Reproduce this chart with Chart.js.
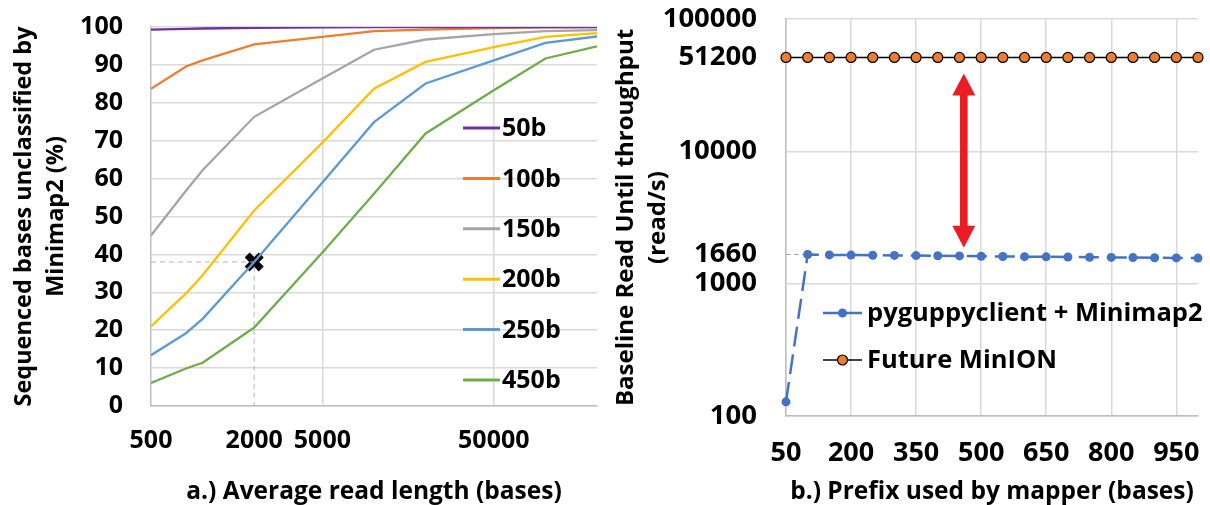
<!DOCTYPE html>
<html>
<head>
<meta charset="utf-8">
<script src="https://cdn.jsdelivr.net/npm/chart.js@4"></script>
<style>
  html, body { margin: 0; padding: 0; background: #fff; }
  #wrap { position: relative; width: 1210px; height: 505px; }
  .box { position: absolute; top: 0; width: 605px; height: 505px; }
</style>
</head>
<body>
<div id="wrap">
  <div class="box" style="left:0"><canvas id="left" width="605" height="505"></canvas></div>
  <div class="box" style="left:605px"><canvas id="right" width="605" height="505"></canvas></div>
</div>
<script>
// ---- a.) unclassified bases vs read length ----
var READ_LENGTH = [500, 800, 1000, 2000, 5000, 10000, 20000, 50000, 100000, 200000];
var LEFT_X_TICKS = [500, 2000, 5000, 50000];
var UNCL_50B  = [99.3, 99.5, 99.6, 99.8, 99.9, 100, 100, 100, 100, 100];
var UNCL_100B = [83.7, 89.6, 91.2, 95.4, 97.4, 98.9, 99.3, 99.7, 99.9, 100];
var UNCL_150B = [45.0, 56.8, 62.2, 76.3, 86.4, 94.0, 96.7, 98.1, 98.9, 99.2];
var UNCL_200B = [21.0, 29.7, 34.5, 51.6, 69.5, 83.7, 90.8, 94.7, 97.4, 98.4];
var UNCL_250B = [13.4, 19.2, 23.0, 38.0, 59.0, 74.9, 85.1, 91.2, 95.8, 97.5];
var UNCL_450B = [6.1, 9.9, 11.4, 20.7, 40.5, 56.0, 71.9, 83.3, 91.7, 94.9];
var MARK_X = 2000;
var MARK_Y = 38;

// ---- b.) throughput vs prefix ----
var PREFIX = ['50', '100', '150', '200', '250', '300', '350', '400', '450', '500',
              '550', '600', '650', '700', '750', '800', '850', '900', '950', '1000'];
var GUPPY_MINIMAP2 = [128, 1660, 1650, 1645, 1640, 1635, 1630, 1625, 1620, 1610,
                      1605, 1600, 1595, 1590, 1585, 1580, 1575, 1570, 1565, 1560];
var FUTURE_MINION = [51200, 51200, 51200, 51200, 51200, 51200, 51200, 51200, 51200, 51200,
                     51200, 51200, 51200, 51200, 51200, 51200, 51200, 51200, 51200, 51200];
var RIGHT_Y_TICKS = [100, 1000, 1660, 10000, 51200, 100000];
var RIGHT_Y_GRID = [100, 1000, 10000, 100000];
var ARROW_AT = 8.2;        // category index (around 450)
var ARROW_TOP = 38800;
var ARROW_BOTTOM = 1870;

var GRID = '#d9d9d9';
var AXIS = '#bfbfbf';
var FAMILY = '"Open Sans", Lato, sans-serif';
Chart.defaults.font.family = FAMILY;
Chart.defaults.font.weight = 'bold';
Chart.defaults.color = '#000';

function pts(values) {
  return READ_LENGTH.map(function (x, i) { return { x: x, y: values[i] }; });
}
function line(label, values, color) {
  return { label: label, data: pts(values), borderColor: color, backgroundColor: color,
           borderWidth: 2.3, pointRadius: 0, tension: 0, inLegend: true };
}
function noPadY(s, w) { s.width = w; s.paddingTop = 0; s.paddingBottom = 0; }
function noPadX(s, h) { s.height = h; s.paddingLeft = 0; s.paddingRight = 0; }

// legend drawn inside the plot area, like the Excel one
var leftLegend = {
  id: 'leftLegend',
  afterDraw: function (chart) {
    var ctx = chart.ctx, a = chart.chartArea;
    var items = chart.data.datasets.filter(function (d) { return d.inLegend; });
    ctx.save();
    ctx.font = 'bold 25px ' + FAMILY;
    ctx.textBaseline = 'middle';
    items.forEach(function (d, i) {
      var y = a.top + 101 + i * 50.4;
      var x0 = a.left + 312;
      ctx.strokeStyle = d.borderColor;
      ctx.lineWidth = 3;
      ctx.beginPath(); ctx.moveTo(x0, y); ctx.lineTo(x0 + 37, y); ctx.stroke();
      ctx.fillStyle = '#000';
      ctx.fillText(d.label, x0 + 39, y + 1);
    });
    ctx.restore();
  }
};

new Chart(document.getElementById('left'), {
  type: 'line',
  data: {
    datasets: [
      line('50b', UNCL_50B, '#7030A0'),
      line('100b', UNCL_100B, '#ED7D31'),
      line('150b', UNCL_150B, '#A5A5A5'),
      line('200b', UNCL_200B, '#FFC000'),
      line('250b', UNCL_250B, '#5B9BD5'),
      line('450b', UNCL_450B, '#70AD47'),
      { label: 'guide', data: [{ x: READ_LENGTH[0], y: MARK_Y }, { x: MARK_X, y: MARK_Y }, { x: MARK_X, y: 0 }],
        borderColor: '#b4b4b4', borderWidth: 1, borderDash: [5, 4], pointRadius: 0 },
      { label: 'mark', data: [{ x: MARK_X, y: MARK_Y }], showLine: false, pointStyle: 'crossRot',
        pointRadius: 10, pointBorderWidth: 7, borderColor: '#000', backgroundColor: '#000' }
    ]
  },
  options: {
    responsive: false,
    animation: false,
    layout: { autoPadding: false, padding: { top: 27, right: 8, left: 0, bottom: 0 } },
    plugins: { legend: { display: false }, tooltip: { enabled: false } },
    scales: {
      x: {
        type: 'logarithmic', min: 500, max: 200000,
        afterBuildTicks: function (s) { s.ticks = LEFT_X_TICKS.map(function (v) { return { value: v }; }); },
        afterFit: function (s) { noPadX(s, 99); },
        ticks: { autoSkip: false, maxRotation: 0, padding: 20, font: { size: 25, weight: 'bold' },
                 callback: function (v) { return String(v); } },
        grid: { drawTicks: false, lineWidth: 1.5,
                color: function (c) { return (c.tick && (c.tick.value === 5000 || c.tick.value === 50000)) ? GRID : 'rgba(0,0,0,0)'; } },
        border: { color: AXIS, width: 1.5 },
        title: { display: true, text: 'a.) Average read length (bases)', font: { size: 24.5, weight: 'bold', lineHeight: 1.1 },
                 padding: { top: 0, bottom: 0 } }
      },
      y: {
        min: 0, max: 100,
        afterFit: function (s) { noPadY(s, 151); },
        ticks: { stepSize: 10, padding: 28, font: { size: 25, weight: 'bold' } },
        grid: { drawTicks: false, color: GRID, lineWidth: 1.5 },
        border: { color: AXIS, width: 1.5 },
        title: { display: true, text: ['Sequenced bases unclassified by', 'Minimap2 (%)'],
                 font: { size: 23.5, weight: 'bold', lineHeight: 1.38 }, padding: { top: 8, bottom: 0 } }
      }
    }
  },
  plugins: [leftLegend]
});

var rightLegend = {
  id: 'rightLegend',
  afterDraw: function (chart) {
    var ctx = chart.ctx, a = chart.chartArea;
    var items = chart.data.datasets.filter(function (d) { return d.inLegend; });
    ctx.save();
    ctx.font = 'bold 25.5px ' + FAMILY;
    ctx.textBaseline = 'middle';
    items.forEach(function (d, i) {
      var y = a.top + 294 + i * 47;
      var x0 = a.left + 37;
      ctx.strokeStyle = d.borderColor;
      ctx.lineWidth = d.borderWidth;
      ctx.beginPath(); ctx.moveTo(x0, y); ctx.lineTo(x0 + 39, y); ctx.stroke();
      ctx.beginPath(); ctx.arc(x0 + 19.5, y, d.pointRadius, 0, Math.PI * 2);
      ctx.fillStyle = d.pointBackgroundColor; ctx.fill();
      if (d.pointBorderWidth) { ctx.lineWidth = d.pointBorderWidth; ctx.strokeStyle = d.pointBorderColor; ctx.stroke(); }
      ctx.fillStyle = '#000';
      ctx.fillText(d.label, x0 + 44, y + 1);
    });
    ctx.restore();
  }
};

var arrow = {
  id: 'arrow',
  afterDatasetsDraw: function (chart) {
    var ctx = chart.ctx;
    var x = chart.scales.x.getPixelForValue(ARROW_AT);
    var y1 = chart.scales.y.getPixelForValue(ARROW_TOP);
    var y2 = chart.scales.y.getPixelForValue(ARROW_BOTTOM);
    var hw = 11.5, hl = 22;
    ctx.save();
    ctx.fillStyle = '#EC1C24';
    ctx.fillRect(x - 3.8, y1 + hl - 1, 7.6, y2 - y1 - 2 * hl + 2);
    ctx.beginPath(); ctx.moveTo(x, y1); ctx.lineTo(x - hw, y1 + hl); ctx.lineTo(x + hw, y1 + hl); ctx.closePath(); ctx.fill();
    ctx.beginPath(); ctx.moveTo(x, y2); ctx.lineTo(x - hw, y2 - hl); ctx.lineTo(x + hw, y2 - hl); ctx.closePath(); ctx.fill();
    ctx.restore();
  }
};

new Chart(document.getElementById('right'), {
  type: 'line',
  data: {
    labels: PREFIX,
    datasets: [
      { label: 'pyguppyclient + Minimap2', data: GUPPY_MINIMAP2, borderColor: '#4472C4',
        borderWidth: 2.5, borderDash: [20, 8], pointRadius: 4.5, pointBackgroundColor: '#4472C4',
        pointBorderWidth: 0, pointBorderColor: '#4472C4', clip: false, inLegend: true },
      { label: 'Future MinION', data: FUTURE_MINION, borderColor: '#000', borderWidth: 1.4,
        pointRadius: 5, pointBackgroundColor: '#ED7D31', pointBorderColor: '#000',
        pointBorderWidth: 1.2, clip: false, inLegend: true },
      { label: 'guide', data: [1660, 1660], borderColor: '#a6a6a6', borderWidth: 1,
        borderDash: [5, 3], pointRadius: 0 }
    ]
  },
  options: {
    responsive: false,
    animation: false,
    layout: { autoPadding: false, padding: { top: 19, right: 12, left: 0, bottom: 0 } },
    plugins: { legend: { display: false }, tooltip: { enabled: false } },
    scales: {
      x: {
        afterFit: function (s) { noPadX(s, 89); },
        ticks: { autoSkip: false, maxRotation: 0, padding: 21, font: { size: 27, weight: 'bold' },
                 callback: function (v, i) { return i % 3 === 0 ? this.getLabelForValue(v) : ''; } },
        grid: { drawTicks: false, lineWidth: 1.5,
                color: function (c) { return c.index % 3 === 0 ? GRID : 'rgba(0,0,0,0)'; } },
        border: { color: AXIS, width: 1.5 },
        title: { display: true, text: 'b.) Prefix used by mapper (bases)', font: { size: 24.5, weight: 'bold', lineHeight: 1.1 },
                 padding: { top: 0, bottom: 0 } }
      },
      y: {
        type: 'logarithmic', min: 100, max: 100000,
        afterBuildTicks: function (s) { s.ticks = RIGHT_Y_TICKS.map(function (v) { return { value: v }; }); },
        afterFit: function (s) { noPadY(s, 181); },
        ticks: { padding: 29, font: { size: 27.5, weight: 'bold' }, callback: function (v) { return String(v); } },
        grid: { drawTicks: false, lineWidth: 1.5,
                color: function (c) { return (c.tick && RIGHT_Y_GRID.indexOf(c.tick.value) >= 0) ? GRID : 'rgba(0,0,0,0)'; } },
        border: { color: AXIS, width: 1.5 },
        title: { display: true, text: ['Baseline Read Until throughput', '(read/s)'],
                 font: { size: 24, weight: 'bold', lineHeight: 1.3 }, padding: { top: 6, bottom: 0 } }
      }
    }
  },
  plugins: [rightLegend, arrow]
});
</script>
</body>
</html>
